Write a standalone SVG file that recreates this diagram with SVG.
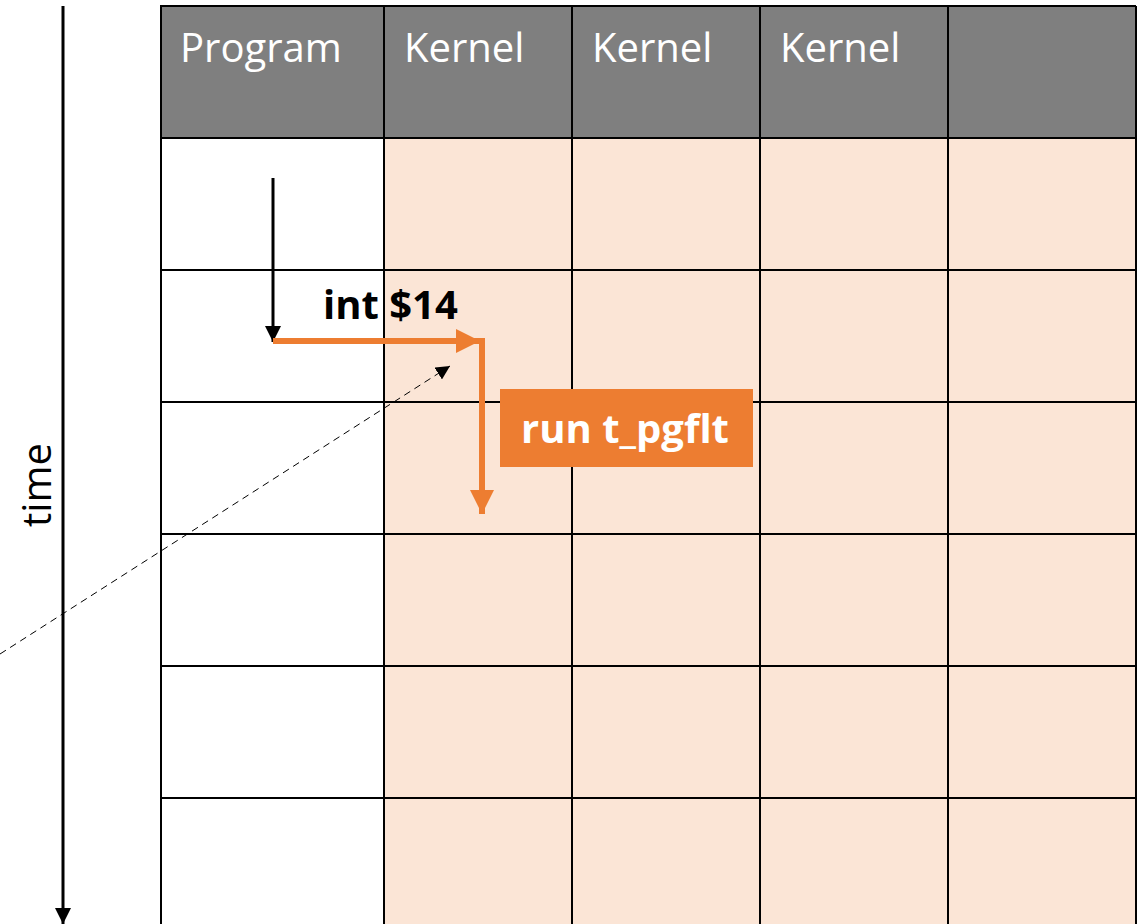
<svg xmlns="http://www.w3.org/2000/svg" width="1137" height="924" viewBox="0 0 1137 924">
  <style>
    .hdr { fill: #7F7F7F; }
    .krn { fill: #FBE5D6; }
    .prg { fill: #FFFFFF; }
    .grid { stroke: #000; stroke-width: 2; fill: none; }
    .htxt { font-family: "Open Sans", "Liberation Sans", sans-serif; font-size: 40px; fill: #FFFFFF; }
    .btxt { font-family: "Open Sans", "Liberation Sans", sans-serif; font-size: 40px; font-weight: bold; }
  </style>
  <defs>
    <marker id="ah-black" viewBox="0 0 10 10" refX="10" refY="5" markerWidth="5.5" markerHeight="5.5" orient="auto" markerUnits="strokeWidth">
      <path d="M0,0 L10,5 L0,10 z" fill="#000"/>
    </marker>
    <marker id="ah-orange" viewBox="0 0 10 10" refX="10" refY="5" markerWidth="4" markerHeight="4" orient="auto" markerUnits="strokeWidth">
      <path d="M0,0 L10,5 L0,10 z" fill="#ED7D31"/>
    </marker>
    <marker id="ah-dash" viewBox="0 0 10 10" refX="10" refY="5" markerWidth="14" markerHeight="14" orient="auto" markerUnits="strokeWidth">
      <path d="M0,0 L10,5 L0,10 z" fill="#000"/>
    </marker>
  </defs>

  <rect width="1137" height="924" fill="#FFFFFF"/>

  <!-- table: header row and cell fills -->
  <g id="table">
    <rect class="hdr" x="160" y="6" width="977" height="132"/>
    <rect class="prg" x="160" y="138" width="224" height="790"/>
    <rect class="krn" x="384" y="138" width="753" height="790"/>
    <g class="grid">
      <path d="M160,6 H1136 M160,138 H1136 M160,270 H1136 M160,402 H1136 M160,534 H1136 M160,666 H1136 M160,798 H1136"/>
      <path d="M161,6 V924 M384,6 V924 M572,6 V924 M760,6 V924 M948,6 V924 M1136,6 V924"/>
    </g>
  </g>

  <g id="header-program"><text class="htxt" x="180" y="62">Program</text></g>
  <g id="header-kernel-1"><text class="htxt" x="404" y="62">Kernel</text></g>
  <g id="header-kernel-2"><text class="htxt" x="592" y="62">Kernel</text></g>
  <g id="header-kernel-3"><text class="htxt" x="780" y="62">Kernel</text></g>

  <!-- time axis -->
  <g id="time-axis">
    <line x1="63" y1="6" x2="63" y2="924" stroke="#000" stroke-width="3" marker-end="url(#ah-black)"/>
    <text x="0" y="0" transform="translate(51,485) rotate(-90)" text-anchor="middle" font-family="'Open Sans', 'Liberation Sans', sans-serif" font-size="40" fill="#000">time</text>
  </g>

  <g id="label-int"><text class="btxt" x="323" y="319" fill="#000">int $14</text></g>

  <g id="label-run">
    <rect x="500" y="389" width="253" height="78" fill="#ED7D31"/>
    <text class="btxt" x="625" y="443" text-anchor="middle" fill="#FFFFFF">run t_pgflt</text>
  </g>

  <!-- connectors -->
  <g id="connectors">
    <line x1="273" y1="178" x2="273" y2="342" stroke="#000" stroke-width="3" marker-end="url(#ah-black)"/>
    <line x1="273" y1="341" x2="480" y2="341" stroke="#ED7D31" stroke-width="6" marker-end="url(#ah-orange)"/>
    <line x1="482" y1="338" x2="482" y2="514" stroke="#ED7D31" stroke-width="6" marker-end="url(#ah-orange)"/>
    <line x1="0" y1="654" x2="450" y2="366" stroke="#000" stroke-width="1" stroke-dasharray="7,5" marker-end="url(#ah-dash)"/>
  </g>
</svg>
